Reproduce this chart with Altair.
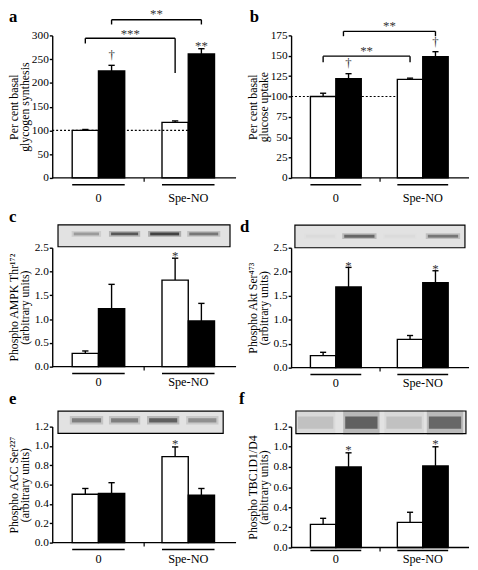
import altair as alt
import pandas as pd

FONT = "Liberation Serif, Times New Roman, DejaVu Serif, serif"

GROUPS = ["0", "Spe-NO"]
SERIES = ["open", "filled"]

# bar values (open 0, filled 0, open Spe-NO, filled Spe-NO) and SEM
A_VALS = [100, 225, 117, 261]
A_ERR = [2, 12, 3, 11]
B_VALS = [100, 122, 121, 149]
B_ERR = [4, 6, 1.5, 6]
C_VALS = [0.28, 1.22, 1.82, 0.96]
C_ERR = [0.05, 0.51, 0.46, 0.37]
D_VALS = [0.25, 1.68, 0.59, 1.77]
D_ERR = [0.07, 0.41, 0.08, 0.25]
E_VALS = [0.50, 0.51, 0.89, 0.49]
E_ERR = [0.06, 0.11, 0.10, 0.07]
F_VALS = [0.23, 0.80, 0.25, 0.81]
F_ERR = [0.06, 0.14, 0.10, 0.19]

# blot band intensities (lanes 1-4)
C_BANDS = [0.35, 0.75, 0.9, 0.55]
D_BANDS = [0.03, 0.65, 0.03, 0.55]
E_BANDS = [0.5, 0.5, 0.7, 0.4]
F_BANDS = [0.15, 0.7, 0.15, 0.65]

X_DOMAIN = [0, 7]
BAR_START = 0.76
GROUP_STEP = 3.42


def bar_x0(i):
    g, k = divmod(i, 2)
    return BAR_START + g * GROUP_STEP + k


def centre(i):
    return bar_x0(i) + 0.5


PANELS = [
    dict(letter="a", vals=A_VALS, errs=A_ERR, ymax=300, ticks=list(range(0, 301, 50)), fmt="d",
         title=["Per cent basal", "glycogen synthesis"], width=187, cell_h=216, plot_h=145,
         lpos=(-44, -14), ul=7, lab=20,
         ann=[(centre(1), 258, "†"), (centre(3), 284, "**")],
         brackets=[(centre(0), centre(2), 294, 283, 221, "***", 309),
                   (centre(1), centre(3), 333, 323, 323, "**", 353)],
         dot_end=bar_x0(3), blot=None),
    dict(letter="b", vals=B_VALS, errs=B_ERR, ymax=175, ticks=list(range(0, 176, 25)), fmt="d",
         title=["Per cent basal", "glucose uptake"], width=181, cell_h=216, plot_h=145,
         lpos=(-42, -14), ul=7, lab=20,
         ann=[(centre(1), 141, "†"), (centre(3), 167, "†")],
         brackets=[(centre(0), centre(2), 149.5, 142, 142, "**", 160),
                   (centre(1) - 0.2, centre(3), 180, 174, 174, "**", 191)],
         dot_end=bar_x0(2), blot=None),
    dict(letter="c", vals=C_VALS, errs=C_ERR, ymax=2.5, ticks=[0, 0.5, 1.0, 1.5, 2.0, 2.5], fmt=".1f",
         title=["Phospho AMPK Thr\u00b9\u2077\u00b2", "(arbitrary units)"], width=187, cell_h=182, plot_h=121,
         lpos=(-44, -26), ul=7, lab=16,
         ann=[(centre(2), 2.40, "*")], brackets=[], dot_end=None,
         blot=dict(x=(0.22, 6.77), y=(2.52, 2.98),
                   lanes=[(0.74, 1.86), (2.16, 3.35), (3.65, 4.91), (5.14, 6.40)],
                   yc=2.79, half=0.03, bands=C_BANDS)),
    dict(letter="d", vals=D_VALS, errs=D_ERR, ymax=2.5, ticks=[0, 0.5, 1.0, 1.5, 2.0, 2.5], fmt=".1f",
         title=["Phospho Akt Ser\u2074\u2077\u00b3", "(arbitrary units)"], width=181, cell_h=182, plot_h=122,
         lpos=(-52, -16), ul=7, lab=16,
         ann=[(centre(1), 2.19, "*"), (centre(3), 2.13, "*")], brackets=[], dot_end=None,
         blot=dict(x=(0.15, 6.84), y=(2.50, 2.97),
                   lanes=[(0.5, 1.8), (2.01, 3.36), (3.6, 4.95), (5.30, 6.65)],
                   yc=2.74, half=0.03, bands=D_BANDS)),
    dict(letter="e", vals=E_VALS, errs=E_ERR, ymax=1.2, ticks=[0, 0.2, 0.4, 0.6, 0.8, 1.0, 1.2], fmt=".1f",
         title=["Phospho ACC Ser\u00b2\u00b2\u2077", "(arbitrary units)"], width=187, cell_h=123, plot_h=118,
         lpos=(-44, -23), ul=7, lab=17,
         ann=[(centre(2), 1.06, "*")], brackets=[], dot_end=None,
         blot=dict(x=(0.22, 6.51), y=(1.13, 1.36),
                   lanes=[(0.67, 1.94), (2.16, 3.35), (3.61, 4.84), (5.10, 6.33)],
                   yc=1.265, half=0.022, bands=E_BANDS)),
    dict(letter="f", vals=F_VALS, errs=F_ERR, ymax=1.2, ticks=[0, 0.2, 0.4, 0.6, 0.8, 1.0, 1.2], fmt=".1f",
         title=["Phospho TBC1D1/D4", "(arbitrary units)"], width=181, cell_h=123, plot_h=123,
         lpos=(-53, -23), ul=3, lab=12,
         ann=[(centre(1), 1.00, "*"), (centre(3), 1.06, "*")], brackets=[], dot_end=None,
         blot=dict(x=(0.19, 6.88), y=(1.13, 1.355),
                   lanes=[(0.19, 1.74), (2.05, 3.48), (3.67, 5.22), (5.34, 6.77)],
                   yc=1.24, half=0.06, bands=F_BANDS)),
]

ONE = pd.DataFrame({"d": [0]})
STAR_DY = 3.5  # asterisks sit high in the em box


def make_panel(p):
    xs = alt.Scale(domain=X_DOMAIN, nice=False, zero=False)
    ys = alt.Scale(domain=[0, p["ymax"]], range=[p["plot_h"], 0], nice=False, zero=False)
    yaxis = alt.Axis(values=p["ticks"], format=p["fmt"], title=p["title"], grid=False,
                     domainColor="black", domainWidth=1.4, tickColor="black", tickWidth=1.4,
                     tickSize=3, labelFont=FONT, labelFontSize=11.5, labelColor="black",
                     labelPadding=1, titleFont=FONT, titleFontSize=12, titleFontWeight="normal",
                     titleColor="black", titlePadding=1, titleLineHeight=11,
                     minExtent=20, maxExtent=20, labelOverlap=False)

    def X(v):
        if isinstance(v, str):
            return alt.X(v, type="quantitative", scale=xs, axis=None)
        return alt.X(datum=v, type="quantitative", scale=xs, axis=None)

    def Y(v):
        if isinstance(v, str):
            return alt.Y(v, type="quantitative", scale=ys, axis=yaxis)
        return alt.Y(datum=v, type="quantitative", scale=ys, axis=yaxis)

    rows = []
    for i, (v, e) in enumerate(zip(p["vals"], p["errs"])):
        rows.append(dict(x0=bar_x0(i), x1=bar_x0(i) + 1, xc=centre(i), val=v, top=v + e,
                         c0=centre(i) - 0.12, c1=centre(i) + 0.12,
                         series=SERIES[i % 2], group=GROUPS[i // 2]))
    bars_df = pd.DataFrame(rows)

    layers = []

    layers.append(alt.Chart(bars_df).mark_rect(stroke="black", strokeWidth=1.4).encode(
        x=X("x0"), x2="x1", y=Y("val"), y2=alt.Y2(datum=0),
        fill=alt.Fill("series:N", scale=alt.Scale(domain=SERIES, range=["white", "black"]), legend=None)))

    b = p["blot"]
    if b is not None:
        layers.append(alt.Chart(ONE).mark_rect(fill="#e2e2e2", stroke="black", strokeWidth=1.2).encode(
            x=X(b["x"][0]), x2=alt.X2(datum=b["x"][1]), y=Y(b["y"][0]), y2=alt.Y2(datum=b["y"][1])))
        band_rows = []
        for (l0, l1), inten in zip(b["lanes"], b["bands"]):
            band_rows.append(dict(x0=l0, x1=l1, y0=b["yc"] - 2 * b["half"], y1=b["yc"] + 2 * b["half"],
                                  op=inten * 0.3))
            band_rows.append(dict(x0=l0 + 0.08, x1=l1 - 0.08, y0=b["yc"] - b["half"], y1=b["yc"] + b["half"],
                                  op=inten * 0.8))
        layers.append(alt.Chart(pd.DataFrame(band_rows)).mark_rect(fill="#1a1a1a").encode(
            x=X("x0"), x2="x1", y=Y("y0"), y2="y1", opacity=alt.Opacity("op:Q", scale=None)))

    layers.append(alt.Chart(bars_df).mark_rule(color="black", strokeWidth=1.4).encode(
        x=X("xc"), y=Y("val"), y2="top"))
    layers.append(alt.Chart(bars_df).mark_rule(color="black", strokeWidth=1.4).encode(
        x=X("c0"), x2="c1", y=Y("top")))

    if p["dot_end"] is not None:
        layers.append(alt.Chart(ONE).mark_rule(color="black", strokeWidth=1.2, strokeDash=[2, 2]).encode(
            x=X(0), x2=alt.X2(datum=p["dot_end"]), y=Y(100)))

    # baseline and middle tick
    layers.append(alt.Chart(ONE).mark_rule(color="black", strokeWidth=1.4).encode(
        x=X(X_DOMAIN[0]), x2=alt.X2(datum=X_DOMAIN[1]), y=Y(0)))
    layers.append(alt.Chart(ONE).mark_rule(color="black", strokeWidth=1.2, y2Offset=4).encode(
        x=X(3.5), y=Y(0), y2=alt.Y2(datum=0)))

    grp = pd.DataFrame([dict(x0=BAR_START + g * GROUP_STEP, x1=BAR_START + g * GROUP_STEP + 2,
                             xc=BAR_START + g * GROUP_STEP + 1, label=GROUPS[g]) for g in range(2)])
    layers.append(alt.Chart(grp).mark_rule(color="black", strokeWidth=1.5, yOffset=p["ul"]).encode(
        x=X("x0"), x2="x1", y=Y(0)))
    layers.append(alt.Chart(grp).mark_text(font=FONT, fontSize=12.5, color="black", baseline="middle",
                                           dy=p["lab"]).encode(x=X("xc"), y=Y(0), text="label:N"))

    ann = pd.DataFrame([dict(x=a[0], y=a[1], t=a[2], star=a[2].startswith("*")) for a in p["ann"]])
    for is_star in (True, False):
        sub = ann[ann["star"] == is_star]
        if len(sub):
            layers.append(alt.Chart(sub).mark_text(font=FONT, fontSize=13, color="#333333", baseline="middle",
                                                   dy=STAR_DY if is_star else 0).encode(
                x=X("x"), y=Y("y"), text="t:N"))

    if p["brackets"]:
        br = pd.DataFrame([dict(xl=q[0], xr=q[1], yt=q[2], yl=q[3], yr=q[4], t=q[5], ty=q[6],
                                xm=(q[0] + q[1]) / 2) for q in p["brackets"]])
        rule = dict(color="black", strokeWidth=1.4)
        layers.append(alt.Chart(br).mark_rule(**rule).encode(x=X("xl"), x2="xr", y=Y("yt")))
        layers.append(alt.Chart(br).mark_rule(**rule).encode(x=X("xl"), y=Y("yl"), y2="yt"))
        layers.append(alt.Chart(br).mark_rule(**rule).encode(x=X("xr"), y=Y("yr"), y2="yt"))
        layers.append(alt.Chart(br).mark_text(font=FONT, fontSize=13, color="#333333", baseline="middle",
                                              dy=STAR_DY).encode(x=X("xm"), y=Y("ty"), text="t:N"))

    layers.append(alt.Chart(ONE).mark_text(font=FONT, fontSize=17, fontWeight="bold", color="black",
                                           align="left", baseline="alphabetic",
                                           dx=p["lpos"][0], dy=p["lpos"][1]).encode(
        x=X(0), y=Y(p["ymax"]), text=alt.value(p["letter"])))

    return alt.layer(*layers).properties(width=p["width"], height=p["cell_h"])


panels = [make_panel(p) for p in PANELS]

chart = alt.concat(*panels, columns=2, spacing={"row": 0, "column": 56}, bounds="flush",
                   align="each").properties(
    padding={"top": -6, "left": 0, "right": 0, "bottom": 0}, background="white"
).configure_view(stroke=None)

chart.save("out.html", embed_options={"renderer": "svg", "actions": False})
